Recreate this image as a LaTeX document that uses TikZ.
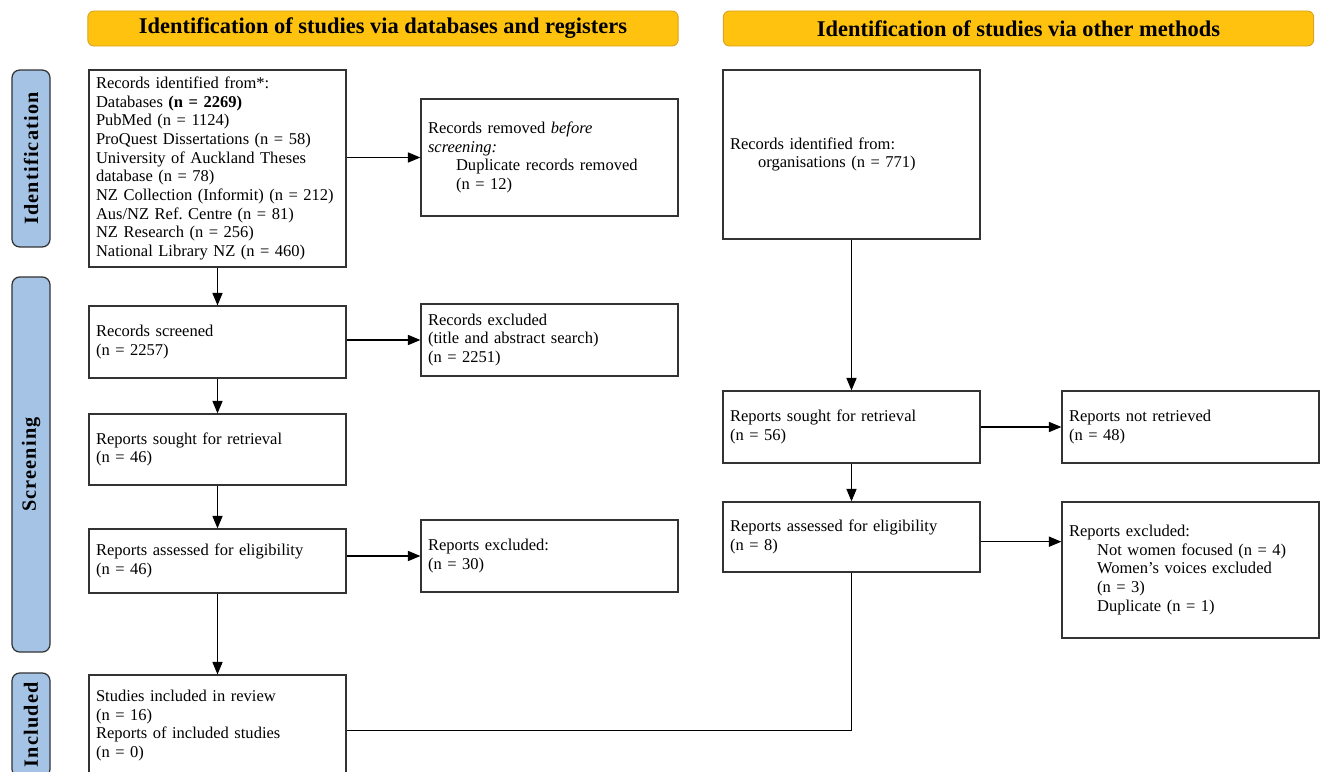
\documentclass[tikz,border=0pt]{standalone}
\usepackage{fontspec}
\setmainfont{Liberation Serif}
\newfontfamily\sidefont[LetterSpace=6]{Liberation Serif}
\usetikzlibrary{arrows.meta}
\definecolor{headfill}{HTML}{FEC20F}
\definecolor{headline}{HTML}{D9A521}
\definecolor{sidefill}{HTML}{A4C3E5}
\definecolor{boxline}{HTML}{333333}
\frenchspacing
\begin{document}
\begin{tikzpicture}[x=0.642pt, y=-0.642pt,
  box/.style={draw=boxline, line width=0.8pt, minimum width=165pt, text width=156pt, inner xsep=4.5pt, align=left, font=\fontsize{10.6}{12}\selectfont},
  head/.style={draw=headline, line width=0.6pt, fill=headfill, rounded corners=4pt, minimum width=379pt, minimum height=22.5pt, font=\fontsize{14.4}{16}\selectfont\bfseries},
  side/.style={draw=boxline, line width=0.8pt, fill=sidefill, rounded corners=5pt, rotate=90, minimum height=24.4pt, font=\sidefont\fontsize{13}{15}\selectfont\bfseries},
  arr/.style={-{Triangle[length=8pt,width=6.5pt]}, line width=0.7pt}]
\useasboundingbox (0,0) rectangle (1325,772);

% headers
\node[head] (hdb) at (383,28.5) {Identification of studies via databases and registers};
\node[head] (hother) at (1018.5,28.5) {Identification of studies via other methods};

% side bars
\node[side, minimum width=113.6pt] (sident) at (31,158.5) {Identification};
\node[side, minimum width=240.8pt] (sscreen) at (31,464.5) {Screening};
\node[side, minimum width=66.8pt] (sincl) at (31,725) {Included};

% left column
\node[box, minimum height=126.5pt] (ident) at (217.5,168.5) {Records identified from*:\\
Databases \textbf{(n = 2269)}\\
PubMed (n = 1124)\\
ProQuest Dissertations (n = 58)\\
University of Auckland Theses\\
database (n = 78)\\
NZ Collection (Informit) (n = 212)\\
Aus/NZ Ref. Centre (n = 81)\\
NZ Research (n = 256)\\
National Library NZ (n = 460)};
\node[box, minimum height=75.1pt] (removed) at (549.5,157.5) {Records removed \textit{before}\\
\textit{screening:}\\
\hspace*{1.7em}Duplicate records removed\\
\hspace*{1.7em}(n = 12)};
\node[box, minimum height=46.2pt] (screened) at (217.5,342) {Records screened\\(n = 2257)};
\node[box, minimum height=46.2pt] (excl) at (549.5,340) {Records excluded\\(title and abstract search)\\(n = 2251)};
\node[box, minimum height=45.6pt] (sought) at (217.5,449.5) {Reports sought for retrieval\\(n = 46)};
\node[box, minimum height=41.1pt] (assessed) at (217.5,561) {Reports assessed for eligibility\\(n = 46)};
\node[box, minimum height=46.2pt] (repexcl) at (549.5,556) {Reports excluded:\\(n = 30)};
\node[box, minimum height=64.8pt] (incl) at (217.5,725.5) {Studies included in review\\(n = 16)\\Reports of included studies\\(n = 0)};

% right column
\node[box, minimum height=108.5pt] (orgs) at (851.5,154.5) {Records identified from:\\
\hspace*{1.7em}organisations (n = 771)};
\node[box, minimum height=46.2pt] (osought) at (851.5,427) {Reports sought for retrieval\\(n = 56)};
\node[box, minimum height=46.2pt] (notret) at (1190.5,427) {Reports not retrieved\\(n = 48)};
\node[box, minimum height=45pt] (oassessed) at (851.5,537) {Reports assessed for eligibility\\(n = 8)};
\node[box, minimum height=87.3pt] (oexcl) at (1190.5,570) {Reports excluded:\\
\hspace*{1.7em}Not women focused (n = 4)\\
\hspace*{1.7em}Women's voices excluded\\
\hspace*{1.7em}(n = 3)\\
\hspace*{1.7em}Duplicate (n = 1)};

% arrows
\draw[arr] (ident) -- (screened);
\draw[arr] (screened) -- (sought);
\draw[arr] (sought) -- (assessed);
\draw[arr] (assessed) -- (incl);
\draw[arr] (ident.east |- removed.west) -- (removed.west);
\draw[arr] (screened.east |- excl.west) -- (excl.west);
\draw[arr] (assessed.east |- repexcl.west) -- (repexcl.west);
\draw[arr] (orgs) -- (osought);
\draw[arr] (osought) -- (oassessed);
\draw[arr] (osought) -- (notret);
\draw[arr] ([yshift=-3pt]oassessed.east) -- ([yshift=-3pt]oassessed.east -| oexcl.west);
\draw[line width=0.7pt] (oassessed.south) |- ([yshift=-3pt]incl.east);
\end{tikzpicture}
\end{document}
